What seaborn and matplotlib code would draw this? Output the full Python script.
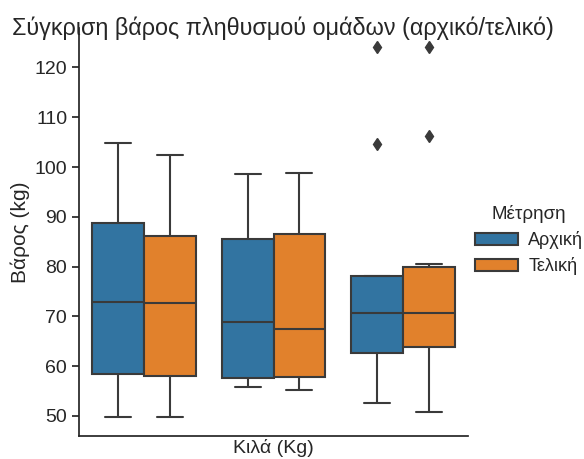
import matplotlib
matplotlib.use("Agg")
import matplotlib.pyplot as plt
import seaborn as sns
import pandas as pd

# ---- data (raw values chosen to reproduce the box statistics) ----
groups = ["Ομάδα Α", "Ομάδα Β", "Ομάδα Γ"]
measures = ["Αρχική", "Τελική"]

g1_initial = [49.7, 53, 56, 58.5, 63, 68, 72.8, 78, 84, 88.8, 95, 100, 104.8]
g1_final = [49.7, 53, 56, 58.0, 62, 67, 72.7, 77, 82, 86.1, 92, 98, 102.5]
g2_initial = [55.8, 56.5, 57, 57.6, 61, 65, 68.8, 73, 79, 85.5, 90, 95, 98.5]
g2_final = [55.2, 56, 57, 57.8, 61, 64, 67.5, 72, 80, 86.5, 91, 95, 98.9]
g3_initial = [52.7, 56, 60, 62.7, 65, 68, 70.6, 73, 76, 78.1, 78.1, 104.6, 124.2]
g3_final = [50.7, 55, 60, 63.9, 66, 68, 70.6, 73, 77, 80.0, 80.6, 106.3, 124.2]

series = {
    (groups[0], measures[0]): g1_initial,
    (groups[0], measures[1]): g1_final,
    (groups[1], measures[0]): g2_initial,
    (groups[1], measures[1]): g2_final,
    (groups[2], measures[0]): g3_initial,
    (groups[2], measures[1]): g3_final,
}

rows = []
for (grp, meas), vals in series.items():
    for v in vals:
        rows.append({"Ομάδα": grp, "Μέτρηση": meas, "Βάρος": v})
df = pd.DataFrame(rows)

# ---- plot ----
sns.set_theme(style="ticks")
plt.rcParams["font.family"] = ["Liberation Sans", "DejaVu Sans"]

W, H = 584, 459
fig = plt.figure(figsize=(W / 100, H / 100), dpi=100)
ax = fig.add_axes([79 / W, 1 - 436 / H, 389 / W, 408 / H])

line_c = "#3a3a3a"
sns.boxplot(
    data=df, x="Ομάδα", y="Βάρος", hue="Μέτρηση",
    order=groups, hue_order=measures,
    palette=["#1f77b4", "#ff7f0e"], saturation=0.75,
    width=0.8, linecolor=line_c, linewidth=1.5,
    flierprops=dict(marker="d", markerfacecolor=line_c,
                    markeredgecolor=line_c, markersize=6),
    ax=ax,
)

sns.despine(ax=ax)
ax.set_xticks([])
ax.set_xlabel("Κιλά (Kg)", fontsize=14, labelpad=2)
ax.set_ylabel("Βάρος (kg)", fontsize=15, labelpad=3)
ax.tick_params(axis="y", labelsize=14, length=5)

fig.text(283 / W, 1 - 28 / H, "Σύγκριση βάρος πληθυσμού ομάδων (αρχικό/τελικό)",
         ha="center", va="center", fontsize=16.8)

sns.move_legend(
    ax, "center left", bbox_to_anchor=(466 / W, 1 - 240 / H),
    bbox_transform=fig.transFigure, frameon=False, borderpad=0,
    title="Μέτρηση", fontsize=13, title_fontsize=13.5,
    handlelength=2.4, handleheight=0.65, handletextpad=0.55,
    labelspacing=0.45,
)

fig.savefig("out.png", dpi=100)
